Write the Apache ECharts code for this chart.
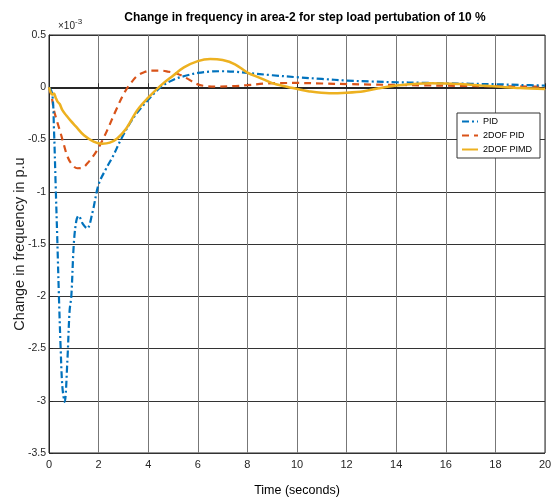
<!DOCTYPE html>
<html><head><meta charset="utf-8">
<script src="https://cdn.jsdelivr.net/npm/echarts@6/dist/echarts.min.js"></script>
<style>html,body{margin:0;padding:0;background:#fff}#c{width:555px;height:500px}</style>
</head><body><div id="c"></div>
<script>
// values in units of 1e-3 p.u.
var tPID = [0,0.13,0.2,0.27,0.34,0.4,0.47,0.54,0.63,0.74,0.83,0.9,1.0,1.1,1.19,1.37,1.54,1.75,2.0,2.3,2.6,2.9,3.3,3.6,4.0,4.5,5,5.5,6,6.5,7,7.5,8,9,10,11,12,13,14,15,16,17,18,19,20];
var vPID = [0,-0.06,-0.4,-0.95,-1.5,-2.0,-2.5,-2.87,-3.01,-2.62,-2.14,-2.0,-1.5,-1.28,-1.23,-1.31,-1.35,-1.2,-0.93,-0.78,-0.65,-0.5,-0.33,-0.23,-0.12,0,0.07,0.11,0.137,0.15,0.153,0.148,0.137,0.115,0.096,0.08,0.064,0.055,0.048,0.043,0.038,0.033,0.029,0.022,0.016];
var t2DOF = [0,0.1,0.2,0.33,0.47,0.6,0.74,0.9,1.14,1.35,1.54,1.75,1.95,2.15,2.35,2.7,3.02,3.3,3.56,3.85,4.1,4.5,4.8,5.17,5.6,5.97,6.3,6.8,7.4,8,8.7,9.3,10,11,12,13,14,15,16.7,18,20];
var v2DOF = [0,-0.08,-0.22,-0.33,-0.44,-0.55,-0.66,-0.73,-0.775,-0.77,-0.73,-0.67,-0.6,-0.51,-0.41,-0.22,-0.06,0.04,0.11,0.145,0.16,0.16,0.15,0.13,0.08,0.03,0.012,0.006,0.01,0.02,0.035,0.04,0.041,0.036,0.03,0.026,0.022,0.018,0.013,0.01,0.006];
var tPIMD = [0,0.07,0.13,0.2,0.27,0.35,0.43,0.54,0.7,0.87,1.1,1.41,1.8,2.15,2.45,2.75,3.1,3.56,4.0,4.5,5.0,5.44,6.0,6.5,7,7.5,8,8.5,9,9.5,10,10.5,11.3,12,12.7,13.3,14,14.7,15.3,16,16.7,17.4,18.1,19,20];
var vPIMD = [0,-0.05,-0.07,-0.06,-0.1,-0.14,-0.16,-0.22,-0.27,-0.32,-0.38,-0.46,-0.52,-0.54,-0.53,-0.49,-0.4,-0.22,-0.1,0.016,0.11,0.19,0.25,0.27,0.26,0.22,0.14,0.09,0.04,0.01,-0.016,-0.04,-0.057,-0.052,-0.038,-0.01,0.016,0.03,0.038,0.037,0.029,0.017,0.006,-0.008,-0.016];
var seriesNames = ['PID','2DOF PID','2DOF PIMD'];
var xTicks = [0,2,4,6,8,10,12,14,16,18,20];
var yTicks = [0.5,0,-0.5,-1,-1.5,-2,-2.5,-3,-3.5];

function zip(a,b){return a.map(function(x,i){return [x,b[i]];});}
var ff = "'Liberation Sans',Arial,sans-serif";
var chart = echarts.init(document.getElementById('c'));
chart.setOption({
  animation:false,
  backgroundColor:'#fff',
  title:[{
    text:'Change in frequency in area-2 for step load pertubation of 10 %',
    left:300, top:7, textAlign:'center',
    textStyle:{fontFamily:ff,fontWeight:'bold',fontSize:12,color:'#000'}
  },{
    text:'×10{s|-3}', left:53, top:13,
    textStyle:{fontFamily:ff,fontSize:10,color:'#262626',fontWeight:'normal',
      rich:{s:{fontSize:8,verticalAlign:'top',padding:[0,0,8,0],fontFamily:ff,color:'#262626'}}}
  }],
  grid:{left:49,right:10,top:35,bottom:47,show:true,borderColor:'#262626',borderWidth:1,backgroundColor:'#fff',
        containLabel:false,outerBoundsMode:'none'},
  legend:{
    data:seriesNames, orient:'vertical', left:457, top:113,
    backgroundColor:'#fff', borderColor:'#333', borderWidth:1, padding:[4,8,4,4],
    itemWidth:16, itemHeight:6, itemGap:5,
    itemStyle:{opacity:0},
    textStyle:{fontFamily:ff,fontSize:9,color:'#000'}
  },
  xAxis:{
    type:'value', min:0, max:20, interval:2,
    name:'Time (seconds)', nameLocation:'middle', nameGap:31,
    nameTextStyle:{fontFamily:ff,fontSize:12.5,color:'#000'},
    axisLine:{show:true,lineStyle:{color:'#262626',width:2}},
    axisTick:{show:true,inside:true,length:4,lineStyle:{color:'#262626'}},
    axisLabel:{fontFamily:ff,fontSize:11,color:'#262626',margin:6,
      formatter:function(v){return xTicks.indexOf(v)>=0?String(v):'';}},
    splitLine:{show:true,lineStyle:{color:'#777',width:1}}
  },
  yAxis:{
    type:'value', min:-3.5, max:0.5, interval:0.5,
    name:'Change in frequency in p.u', nameLocation:'middle', nameGap:22,
    nameMoveOverlap:false,
    nameTextStyle:{fontFamily:ff,fontSize:14.5,color:'#222'},
    axisLine:{show:true,lineStyle:{color:'#262626',width:1}},
    axisTick:{show:true,inside:true,length:4,lineStyle:{color:'#262626'}},
    axisLabel:{fontFamily:ff,fontSize:10.5,color:'#262626',margin:3,
      formatter:function(v){return yTicks.indexOf(v)>=0?String(v):'';}},
    splitLine:{show:true,lineStyle:{color:'#333',width:1}}
  },
  series:[
    {name:seriesNames[0],type:'line',data:zip(tPID,vPID),symbol:'none',smooth:0.35,
     lineStyle:{color:'#0072BD',width:2.2,type:[7,3,2,3]},itemStyle:{color:'#0072BD'},z:3},
    {name:seriesNames[1],type:'line',data:zip(t2DOF,v2DOF),symbol:'none',smooth:0.35,
     lineStyle:{color:'#D95319',width:2.2,type:[7,5]},itemStyle:{color:'#D95319'},z:2},
    {name:seriesNames[2],type:'line',data:zip(tPIMD,vPIMD),symbol:'none',smooth:0.35,
     lineStyle:{color:'#EDB120',width:2.5,type:'solid'},itemStyle:{color:'#EDB120'},z:4}
  ]
});
</script></body></html>
